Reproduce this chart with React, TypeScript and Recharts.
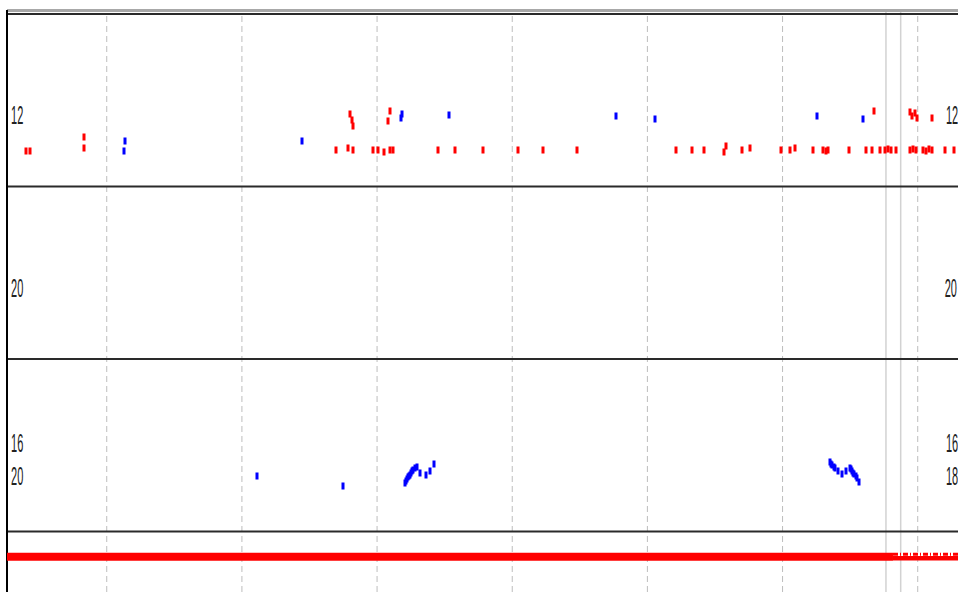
import React from "react";
import {
  ComposedChart,
  XAxis,
  YAxis,
  Scatter,
  Line,
  ReferenceLine,
} from "recharts";

// ---- axis domain / guides ----
const X_DOMAIN: [number, number] = [2.62, 72.98];
const Y_DOMAIN: [number, number] = [6.493, 40.232];
const GRID_X = [10, 20, 30, 40, 50, 60, 70];
const SOLID_X = [67.65, 68.74];
const PANEL_BOUNDS = [40, 30, 20, 10];
const TOP_FRAME = 40.2;

// ---- red marks ----
const redMarks = [
  { x: 4.03, y: 32.06 }, { x: 4.33, y: 32.06 },
  { x: 8.28, y: 32.87 }, { x: 8.32, y: 32.23 },
  { x: 26.94, y: 32.12 }, { x: 27.87, y: 32.23 }, { x: 28.24, y: 32.12 },
  { x: 29.72, y: 32.12 }, { x: 30.09, y: 32.12 }, { x: 30.51, y: 32.0 },
  { x: 30.96, y: 32.12 }, { x: 31.18, y: 32.12 },
  { x: 34.51, y: 32.12 }, { x: 35.77, y: 32.12 }, { x: 37.82, y: 32.12 },
  { x: 40.45, y: 32.12 }, { x: 42.26, y: 32.12 }, { x: 44.81, y: 32.12 },
  { x: 52.12, y: 32.12 }, { x: 53.28, y: 32.12 }, { x: 54.21, y: 32.12 },
  { x: 55.67, y: 32.0 }, { x: 55.82, y: 32.35 }, { x: 57.02, y: 32.12 },
  { x: 57.59, y: 32.23 }, { x: 59.86, y: 32.12 }, { x: 60.55, y: 32.12 },
  { x: 60.92, y: 32.23 }, { x: 62.27, y: 32.12 }, { x: 62.99, y: 32.12 },
  { x: 63.21, y: 32.06 }, { x: 63.36, y: 32.12 }, { x: 64.94, y: 32.12 },
  { x: 66.17, y: 32.12 }, { x: 66.64, y: 32.12 }, { x: 67.21, y: 32.12 },
  { x: 67.58, y: 32.12 }, { x: 67.8, y: 32.18 }, { x: 68.02, y: 32.12 },
  { x: 68.39, y: 32.12 }, { x: 69.43, y: 32.12 }, { x: 69.65, y: 32.18 },
  { x: 69.87, y: 32.12 }, { x: 70.39, y: 32.12 }, { x: 70.61, y: 32.06 },
  { x: 70.83, y: 32.18 }, { x: 71.06, y: 32.12 }, { x: 72.02, y: 32.12 },
  { x: 72.68, y: 32.12 },
  // upper row
  { x: 28.0, y: 34.2 }, { x: 28.15, y: 33.86 }, { x: 28.22, y: 33.51 },
  { x: 30.83, y: 33.8 }, { x: 30.96, y: 34.38 }, { x: 66.79, y: 34.38 },
  { x: 69.43, y: 34.32 }, { x: 69.58, y: 34.09 }, { x: 69.8, y: 34.26 },
  { x: 69.95, y: 33.97 }, { x: 71.08, y: 33.97 },
];

// ---- blue marks ----
const blueMarks = [
  { x: 11.35, y: 32.64 }, { x: 11.28, y: 32.06 }, { x: 24.45, y: 32.64 },
  { x: 31.77, y: 33.97 }, { x: 31.85, y: 34.2 }, { x: 35.3, y: 34.14 },
  { x: 47.66, y: 34.09 }, { x: 50.56, y: 33.91 }, { x: 62.57, y: 34.09 },
  { x: 65.97, y: 33.91 },
  { x: 21.14, y: 13.22 }, { x: 27.5, y: 12.64 },
  { x: 32.07, y: 12.81 }, { x: 32.15, y: 12.95 }, { x: 32.22, y: 13.04 },
  { x: 32.29, y: 13.15 }, { x: 32.36, y: 13.22 }, { x: 32.44, y: 13.3 },
  { x: 32.51, y: 13.39 }, { x: 32.58, y: 13.5 }, { x: 32.66, y: 13.57 },
  { x: 32.81, y: 13.68 }, { x: 32.96, y: 13.74 }, { x: 33.14, y: 13.39 },
  { x: 33.62, y: 13.28 }, { x: 33.92, y: 13.51 }, { x: 34.21, y: 13.91 },
  { x: 63.51, y: 14.03 }, { x: 63.6, y: 13.94 }, { x: 63.66, y: 13.86 },
  { x: 63.8, y: 13.75 }, { x: 63.88, y: 13.68 }, { x: 64.1, y: 13.51 },
  { x: 64.4, y: 13.33 }, { x: 64.69, y: 13.51 }, { x: 64.99, y: 13.68 },
  { x: 65.08, y: 13.6 }, { x: 65.14, y: 13.51 }, { x: 65.22, y: 13.42 },
  { x: 65.29, y: 13.33 }, { x: 65.4, y: 13.2 }, { x: 65.51, y: 13.1 },
  { x: 65.66, y: 12.87 },
];

// ---- bottom red band ----
const bandThick = [{ x: 2.62, y: 8.54 }, { x: 68.17, y: 8.54 }];
const bandThin = [{ x: 68.17, y: 8.45 }, { x: 72.98, y: 8.45 }];
const bandTicks = [{ x: 68.17, y: 8.68 }, { x: 72.98, y: 8.68 }];

// ---- text labels ----
const labels = [
  { x: 2.92, y: 34.14, text: "12" }, { x: 72.09, y: 34.14, text: "12" },
  { x: 2.92, y: 24.12, text: "20" }, { x: 72.0, y: 24.12, text: "20" },
  { x: 2.92, y: 15.13, text: "16" }, { x: 72.09, y: 15.13, text: "16" },
  { x: 2.92, y: 13.22, text: "20" }, { x: 72.09, y: 13.22, text: "18" },
];

const markShape = (color: string) => (props: any) => {
  const { cx, cy } = props;
  if (cx == null || cy == null) return <g />;
  return <rect x={Math.round(cx) - 1.5} y={Math.round(cy) - 3.5} width={3} height={7} fill={color} />;
};

const textShape = (props: any) => {
  const { cx, cy, payload } = props;
  if (cx == null || cy == null) return <g />;
  return (
    <text
      x={0}
      y={0}
      transform={`translate(${cx},${cy}) scale(1,2.4)`}
      dominantBaseline="central"
      fontFamily="'Liberation Sans', Arial, sans-serif"
      fontSize={11}
      fill="#222"
    >
      {payload.text}
    </text>
  );
};

export default function App() {
  return (
    <div style={{ position: "absolute", left: 0, top: 0, width: 958, height: 592, background: "#fff" }}>
      <ComposedChart
        width={958}
        height={592}
        margin={{ top: 10, right: 0, bottom: 0, left: 7 }}
      >
        <XAxis type="number" dataKey="x" domain={X_DOMAIN} hide allowDataOverflow />
        <YAxis type="number" dataKey="y" domain={Y_DOMAIN} hide allowDataOverflow />

        {GRID_X.map((v) => (
          <ReferenceLine key={"g" + v} x={v} stroke="#bdbdbd" strokeWidth={1} strokeDasharray="6 4" ifOverflow="visible" />
        ))}
        {SOLID_X.map((v) => (
          <ReferenceLine key={"s" + v} x={v} stroke="#d2d2d2" strokeWidth={1.5} ifOverflow="visible" />
        ))}
        <ReferenceLine y={TOP_FRAME} stroke="#a8a8a8" strokeWidth={3} ifOverflow="visible" />
        {PANEL_BOUNDS.map((v) => (
          <ReferenceLine key={"p" + v} y={v} stroke="#2a2a2a" strokeWidth={2} ifOverflow="visible" />
        ))}
        <ReferenceLine x={X_DOMAIN[0]} stroke="#000" strokeWidth={2} ifOverflow="visible" segment={[{ x: X_DOMAIN[0], y: 40 }, { x: X_DOMAIN[0], y: Y_DOMAIN[0] }]} />

        <Line data={bandThick} dataKey="y" stroke="#ff0000" strokeWidth={8} dot={false} isAnimationActive={false} />
        <Line data={bandThin} dataKey="y" stroke="#ff0000" strokeWidth={4.5} dot={false} isAnimationActive={false} />
        <Line data={bandTicks} dataKey="y" stroke="#ff0000" strokeWidth={3} strokeDasharray="5 2 1 2" dot={false} isAnimationActive={false} />

        <Scatter data={redMarks} shape={markShape("#ff0000")} isAnimationActive={false} />
        <Scatter data={blueMarks} shape={markShape("#0000ff")} isAnimationActive={false} />
        <Scatter data={labels} shape={textShape} isAnimationActive={false} />
      </ComposedChart>
    </div>
  );
}
